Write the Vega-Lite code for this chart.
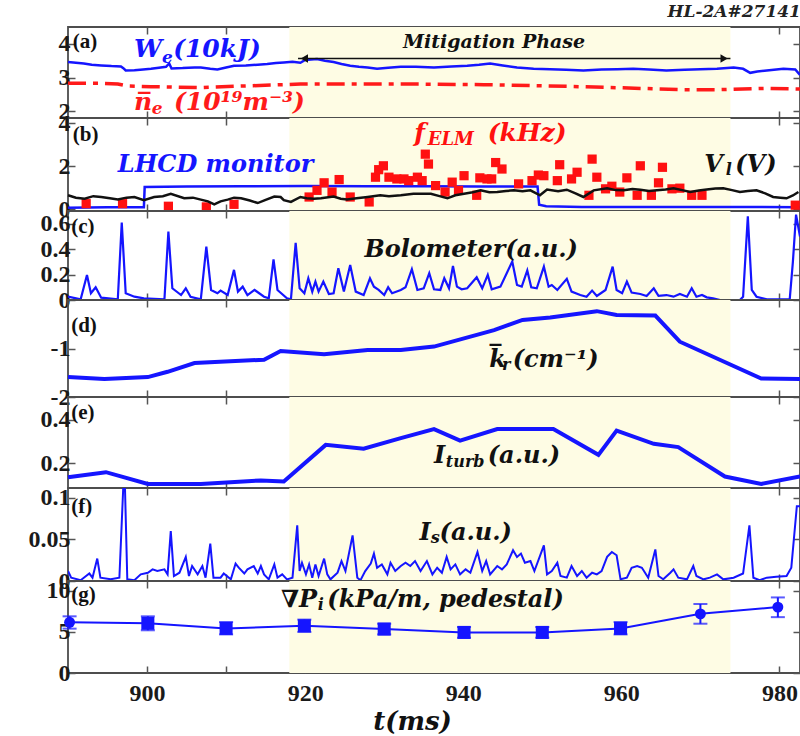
{
"$schema": "https://vega.github.io/schema/vega-lite/v6.json",
"padding": {"left": 7, "top": 3, "right": 0, "bottom": 0},
"background": "white",
"title": {"text": "HL-2A#27141", "anchor": "end", "font": "DejaVu Serif", "fontStyle": "italic", "fontWeight": "bold", "fontSize": 17, "color": "#222", "offset": 4, "dx": -8},
"spacing": 0,
"bounds": "flush",
"config": {
  "view": {"stroke": "#4d4d4d", "strokeWidth": 1.8},
  "axis": {"domain": false, "grid": false, "tickSize": -7, "tickColor": "#555", "tickWidth": 1.5, "labelFont": "Liberation Serif", "labelFontWeight": "bold", "labelFontSize": 24, "labelColor": "#1a1a1a", "labelPadding": 5, "labelFlush": false, "labelOverlap": false},
  "axisLeft": {"minExtent": 60, "maxExtent": 60},
  "axisRight": {"labels": false, "minExtent": 0, "maxExtent": 0},
  "axisTop": {"labels": false, "minExtent": 0, "maxExtent": 0},
  "axisBottom": {"labels": false},
  "text": {"font": "DejaVu Serif", "fontStyle": "italic", "fontWeight": "bold", "fontSize": 23, "baseline": "alphabetic", "align": "left"}
},
"datasets": {
  "shade": [{"start": 918.0, "end": 973.8}],
  "we": [
    {"t":890.0,"v":3.46},{"t":891.0,"v":3.44},{"t":892.0,"v":3.42},{"t":893.0,"v":3.38},{"t":894.2,"v":3.36},{"t":895.5,"v":3.34},{"t":896.7,"v":3.33},{"t":897.0,"v":3.28},{"t":897.3,"v":3.21},{"t":898.4,"v":3.22},{"t":899.5,"v":3.24},{"t":900.5,"v":3.26},{"t":901.5,"v":3.29},{"t":902.4,"v":3.32},{"t":902.8,"v":3.42},{"t":903.1,"v":3.27},{"t":904.5,"v":3.28},{"t":906.0,"v":3.30},{"t":906.8,"v":3.30},{"t":908.0,"v":3.26},{"t":908.9,"v":3.24},{"t":910.0,"v":3.30},{"t":911.0,"v":3.35},{"t":912.5,"v":3.36},{"t":914.0,"v":3.38},{"t":915.2,"v":3.40},{"t":916.3,"v":3.43},{"t":917.3,"v":3.45},{"t":918.4,"v":3.47},{"t":919.4,"v":3.44},{"t":920.0,"v":3.52},{"t":921.5,"v":3.55},{"t":922.5,"v":3.50},{"t":923.6,"v":3.46},{"t":924.6,"v":3.40},{"t":925.7,"v":3.35},{"t":926.8,"v":3.32},{"t":927.9,"v":3.30},{"t":929.1,"v":3.26},{"t":930.5,"v":3.29},{"t":932.1,"v":3.32},{"t":934.0,"v":3.32},{"t":936.3,"v":3.30},{"t":938.5,"v":3.33},{"t":940.5,"v":3.35},{"t":942.0,"v":3.38},{"t":943.4,"v":3.42},{"t":945.0,"v":3.36},{"t":946.8,"v":3.30},{"t":948.9,"v":3.26},{"t":951.0,"v":3.25},{"t":953.0,"v":3.23},{"t":955.2,"v":3.21},{"t":957.5,"v":3.24},{"t":959.5,"v":3.25},{"t":961.5,"v":3.26},{"t":963.5,"v":3.24},{"t":965.7,"v":3.21},{"t":968.0,"v":3.23},{"t":970.0,"v":3.25},{"t":972.1,"v":3.26},{"t":974.2,"v":3.30},{"t":975.4,"v":3.26},{"t":976.3,"v":3.14},{"t":977.2,"v":3.18},{"t":978.4,"v":3.21},{"t":980.5,"v":3.26},{"t":982.0,"v":3.24},{"t":982.6,"v":3.08}
  ],
  "ne": [
    {"t":890.0,"v":2.83},{"t":894.2,"v":2.83},{"t":896.3,"v":2.81},{"t":897.5,"v":2.75},{"t":900.5,"v":2.73},{"t":906.8,"v":2.70},{"t":911.0,"v":2.74},{"t":917.3,"v":2.79},{"t":919.4,"v":2.81},{"t":932.1,"v":2.81},{"t":942.6,"v":2.79},{"t":953.1,"v":2.74},{"t":959.4,"v":2.70},{"t":967.8,"v":2.64},{"t":972.1,"v":2.64},{"t":978.4,"v":2.68},{"t":982.6,"v":2.66}
  ],
  "lhcd": [
    {"t":890.0,"v":0.08},{"t":895.0,"v":0.10},{"t":899.6,"v":0.10},{"t":899.7,"v":1.05},{"t":905.0,"v":1.07},{"t":912.0,"v":1.08},{"t":920.0,"v":1.09},{"t":928.0,"v":1.08},{"t":935.0,"v":1.08},{"t":942.0,"v":1.07},{"t":949.4,"v":1.07},{"t":949.6,"v":0.22},{"t":950.5,"v":0.15},{"t":955.0,"v":0.12},{"t":965.0,"v":0.12},{"t":975.0,"v":0.12},{"t":982.6,"v":0.10}
  ],
  "vl": [
    {"t":890.0,"v":0.66},{"t":891.0,"v":0.55},{"t":892.1,"v":0.50},{"t":893.2,"v":0.62},{"t":894.2,"v":0.58},{"t":895.3,"v":0.52},{"t":896.3,"v":0.46},{"t":897.4,"v":0.55},{"t":898.4,"v":0.58},{"t":899.6,"v":0.43},{"t":900.9,"v":0.58},{"t":902.0,"v":0.62},{"t":903.0,"v":0.73},{"t":904.7,"v":0.52},{"t":905.8,"v":0.55},{"t":906.8,"v":0.46},{"t":907.7,"v":0.38},{"t":908.5,"v":0.24},{"t":909.3,"v":0.38},{"t":910.2,"v":0.46},{"t":911.0,"v":0.55},{"t":911.9,"v":0.52},{"t":913.0,"v":0.42},{"t":914.0,"v":0.30},{"t":915.0,"v":0.45},{"t":916.1,"v":0.60},{"t":916.9,"v":0.58},{"t":917.3,"v":0.43},{"t":918.2,"v":0.35},{"t":919.4,"v":0.58},{"t":920.2,"v":0.52},{"t":921.1,"v":0.50},{"t":922.0,"v":0.52},{"t":923.6,"v":0.60},{"t":924.5,"v":0.50},{"t":925.3,"v":0.46},{"t":926.5,"v":0.52},{"t":927.9,"v":0.58},{"t":929.5,"v":0.66},{"t":930.6,"v":0.62},{"t":932.1,"v":0.66},{"t":933.7,"v":0.73},{"t":935.9,"v":0.73},{"t":937.0,"v":0.62},{"t":938.0,"v":0.52},{"t":939.0,"v":0.66},{"t":940.1,"v":0.73},{"t":941.2,"v":0.80},{"t":942.2,"v":0.89},{"t":943.3,"v":0.80},{"t":944.3,"v":0.81},{"t":945.4,"v":0.86},{"t":946.4,"v":0.89},{"t":947.5,"v":0.85},{"t":948.5,"v":0.89},{"t":949.7,"v":0.66},{"t":950.6,"v":0.93},{"t":952.0,"v":0.85},{"t":953.1,"v":0.92},{"t":954.2,"v":0.75},{"t":955.2,"v":0.58},{"t":956.5,"v":0.89},{"t":958.2,"v":0.99},{"t":959.3,"v":0.90},{"t":960.3,"v":0.89},{"t":961.4,"v":0.95},{"t":962.4,"v":0.92},{"t":963.5,"v":0.86},{"t":964.5,"v":0.89},{"t":965.6,"v":0.93},{"t":966.6,"v":0.99},{"t":967.7,"v":0.90},{"t":968.7,"v":0.81},{"t":969.8,"v":0.88},{"t":970.8,"v":0.93},{"t":971.9,"v":0.97},{"t":972.9,"v":0.99},{"t":974.0,"v":0.90},{"t":975.0,"v":0.81},{"t":976.0,"v":0.86},{"t":977.1,"v":0.89},{"t":978.2,"v":0.75},{"t":979.2,"v":0.58},{"t":980.1,"v":0.55},{"t":980.9,"v":0.52},{"t":981.7,"v":0.65},{"t":982.4,"v":0.81}
  ],
  "felm": [
    {"t":892.3,"v":0.27},{"t":896.9,"v":0.27},{"t":902.7,"v":0.15},{"t":907.5,"v":0.12},{"t":911.0,"v":0.24},{"t":920.5,"v":0.58},{"t":921.5,"v":0.89},{"t":922.4,"v":1.24},{"t":923.4,"v":0.81},{"t":924.3,"v":1.39},{"t":925.7,"v":0.58},{"t":928.1,"v":0.35},{"t":928.9,"v":1.50},{"t":929.3,"v":1.85},{"t":929.9,"v":2.03},{"t":930.6,"v":1.50},{"t":931.6,"v":1.42},{"t":932.5,"v":1.42},{"t":933.1,"v":1.34},{"t":934.2,"v":1.50},{"t":934.8,"v":1.34},{"t":935.2,"v":2.57},{"t":935.6,"v":2.11},{"t":936.5,"v":1.11},{"t":937.7,"v":0.81},{"t":938.6,"v":1.27},{"t":939.4,"v":0.89},{"t":940.1,"v":1.57},{"t":941.7,"v":0.66},{"t":942.1,"v":1.47},{"t":943.0,"v":1.42},{"t":943.6,"v":1.42},{"t":944.1,"v":2.18},{"t":944.9,"v":1.88},{"t":947.0,"v":1.19},{"t":948.7,"v":1.34},{"t":949.5,"v":1.60},{"t":950.2,"v":1.57},{"t":951.9,"v":1.34},{"t":952.2,"v":2.08},{"t":953.7,"v":1.42},{"t":954.4,"v":1.73},{"t":955.9,"v":0.66},{"t":956.3,"v":2.34},{"t":956.9,"v":1.50},{"t":958.0,"v":0.96},{"t":958.8,"v":1.08},{"t":959.8,"v":0.81},{"t":960.7,"v":1.47},{"t":962.0,"v":0.66},{"t":962.4,"v":2.03},{"t":963.8,"v":0.66},{"t":964.7,"v":1.24},{"t":965.2,"v":1.96},{"t":966.4,"v":0.96},{"t":967.4,"v":0.99},{"t":968.9,"v":0.66},{"t":970.2,"v":0.66},{"t":982.0,"v":0.20}
  ],
  "bolo": [
    {"t":890.0,"v":0.026},{"t":891.6,"v":0.005},{"t":892.4,"v":0.197},{"t":892.9,"v":0.053},{"t":893.5,"v":0.100},{"t":894.2,"v":0.018},{"t":896.3,"v":0.005},{"t":896.8,"v":0.610},{"t":897.3,"v":0.053},{"t":898.4,"v":0.026},{"t":899.6,"v":0.013},{"t":902.2,"v":0.005},{"t":902.7,"v":0.539},{"t":903.2,"v":0.092},{"t":904.3,"v":0.039},{"t":904.9,"v":0.092},{"t":905.5,"v":0.026},{"t":906.8,"v":0.005},{"t":907.5,"v":0.420},{"t":908.1,"v":0.079},{"t":908.9,"v":0.053},{"t":909.3,"v":0.074},{"t":910.2,"v":0.039},{"t":911.0,"v":0.237},{"t":911.5,"v":0.066},{"t":912.1,"v":0.105},{"t":912.7,"v":0.039},{"t":913.6,"v":0.079},{"t":914.8,"v":0.026},{"t":915.4,"v":0.013},{"t":916.0,"v":0.320},{"t":916.5,"v":0.079},{"t":917.7,"v":0.013},{"t":918.2,"v":0.005},{"t":918.8,"v":0.450},{"t":919.3,"v":0.092},{"t":919.9,"v":0.053},{"t":920.4,"v":0.171},{"t":920.9,"v":0.066},{"t":921.3,"v":0.145},{"t":921.7,"v":0.066},{"t":922.3,"v":0.145},{"t":923.0,"v":0.047},{"t":923.6,"v":0.053},{"t":924.2,"v":0.250},{"t":924.9,"v":0.066},{"t":925.7,"v":0.276},{"t":926.4,"v":0.066},{"t":927.4,"v":0.039},{"t":928.2,"v":0.171},{"t":928.7,"v":0.105},{"t":929.3,"v":0.079},{"t":930.0,"v":0.039},{"t":930.5,"v":0.100},{"t":931.0,"v":0.053},{"t":932.1,"v":0.079},{"t":932.7,"v":0.100},{"t":933.5,"v":0.242},{"t":934.2,"v":0.079},{"t":935.0,"v":0.092},{"t":935.7,"v":0.211},{"t":936.3,"v":0.084},{"t":937.1,"v":0.079},{"t":937.6,"v":0.171},{"t":938.2,"v":0.092},{"t":938.7,"v":0.268},{"t":939.2,"v":0.105},{"t":939.8,"v":0.084},{"t":940.5,"v":0.092},{"t":941.7,"v":0.179},{"t":942.4,"v":0.092},{"t":943.1,"v":0.197},{"t":943.6,"v":0.084},{"t":944.7,"v":0.105},{"t":945.5,"v":0.211},{"t":946.2,"v":0.303},{"t":946.8,"v":0.118},{"t":947.4,"v":0.105},{"t":948.1,"v":0.232},{"t":948.6,"v":0.100},{"t":949.3,"v":0.092},{"t":950.2,"v":0.263},{"t":950.8,"v":0.105},{"t":951.2,"v":0.118},{"t":951.9,"v":0.079},{"t":953.1,"v":0.166},{"t":953.7,"v":0.066},{"t":954.8,"v":0.039},{"t":955.6,"v":0.026},{"t":956.3,"v":0.074},{"t":956.9,"v":0.032},{"t":958.0,"v":0.079},{"t":958.9,"v":0.263},{"t":959.4,"v":0.079},{"t":960.1,"v":0.053},{"t":960.7,"v":0.145},{"t":961.3,"v":0.058},{"t":962.4,"v":0.047},{"t":963.2,"v":0.032},{"t":964.1,"v":0.092},{"t":964.7,"v":0.032},{"t":965.7,"v":0.039},{"t":966.6,"v":0.026},{"t":967.4,"v":0.047},{"t":968.3,"v":0.026},{"t":968.9,"v":0.092},{"t":969.5,"v":0.026},{"t":970.2,"v":0.039},{"t":970.8,"v":0.021},{"t":971.6,"v":0.013},{"t":972.5,"v":0.0},{"t":975.0,"v":0.0},{"t":975.4,"v":0.026},{"t":976.0,"v":0.658},{"t":976.5,"v":0.079},{"t":977.1,"v":0.026},{"t":978.4,"v":0.005},{"t":981.3,"v":0.005},{"t":981.7,"v":0.300},{"t":982.1,"v":0.671},{"t":982.6,"v":0.500}
  ],
  "kr": [
    {"t":890.0,"v":-1.59},{"t":894.6,"v":-1.63},{"t":900.1,"v":-1.59},{"t":902.6,"v":-1.48},{"t":906.0,"v":-1.30},{"t":914.8,"v":-1.23},{"t":916.9,"v":-1.05},{"t":922.4,"v":-1.12},{"t":927.9,"v":-1.03},{"t":932.1,"v":-1.03},{"t":936.3,"v":-0.96},{"t":943.9,"v":-0.62},{"t":947.5,"v":-0.41},{"t":951.0,"v":-0.36},{"t":956.9,"v":-0.23},{"t":959.4,"v":-0.31},{"t":964.3,"v":-0.32},{"t":967.4,"v":-0.86},{"t":977.7,"v":-1.62},{"t":982.6,"v":-1.63}
  ],
  "iturb": [
    {"t":890.0,"v":0.135},{"t":894.8,"v":0.158},{"t":900.1,"v":0.104},{"t":906.8,"v":0.104},{"t":914.4,"v":0.120},{"t":917.3,"v":0.115},{"t":922.6,"v":0.284},{"t":927.4,"v":0.266},{"t":932.1,"v":0.315},{"t":936.3,"v":0.357},{"t":939.6,"v":0.304},{"t":944.3,"v":0.357},{"t":951.4,"v":0.357},{"t":957.1,"v":0.238},{"t":959.4,"v":0.350},{"t":964.1,"v":0.289},{"t":967.2,"v":0.274},{"t":973.1,"v":0.138},{"t":977.7,"v":0.104},{"t":982.6,"v":0.138}
  ],
  "is": [
    {"t":890.0,"v":0.012},{"t":890.4,"v":0.004},{"t":891.6,"v":0.001},{"t":892.7,"v":0.009},{"t":893.1,"v":0.004},{"t":893.7,"v":0.027},{"t":894.1,"v":0.004},{"t":895.4,"v":0.002},{"t":896.5,"v":0.004},{"t":897.0,"v":0.115},{"t":897.2,"v":0.115},{"t":897.5,"v":0.002},{"t":898.4,"v":0.001},{"t":899.2,"v":0.008},{"t":900.1,"v":0.010},{"t":900.7,"v":0.014},{"t":901.3,"v":0.012},{"t":902.2,"v":0.014},{"t":902.6,"v":0.008},{"t":903.0,"v":0.060},{"t":903.4,"v":0.006},{"t":904.1,"v":0.010},{"t":904.9,"v":0.029},{"t":905.3,"v":0.006},{"t":905.7,"v":0.018},{"t":906.4,"v":0.008},{"t":907.0,"v":0.018},{"t":907.4,"v":0.004},{"t":908.0,"v":0.045},{"t":908.4,"v":0.004},{"t":909.3,"v":0.004},{"t":909.7,"v":0.009},{"t":910.6,"v":0.002},{"t":911.2,"v":0.021},{"t":911.6,"v":0.016},{"t":912.3,"v":0.009},{"t":912.7,"v":0.014},{"t":913.5,"v":0.018},{"t":914.0,"v":0.009},{"t":914.4,"v":0.018},{"t":914.8,"v":0.008},{"t":915.4,"v":0.002},{"t":916.1,"v":0.020},{"t":916.5,"v":0.004},{"t":917.1,"v":0.008},{"t":917.7,"v":0.002},{"t":918.4,"v":0.004},{"t":919.0,"v":0.067},{"t":919.3,"v":0.012},{"t":919.6,"v":0.022},{"t":920.1,"v":0.008},{"t":920.5,"v":0.020},{"t":920.9,"v":0.004},{"t":921.3,"v":0.020},{"t":921.7,"v":0.006},{"t":922.4,"v":0.027},{"t":922.8,"v":0.008},{"t":923.2,"v":0.002},{"t":924.1,"v":0.010},{"t":924.6,"v":0.024},{"t":925.1,"v":0.012},{"t":926.0,"v":0.055},{"t":926.6,"v":0.004},{"t":927.0,"v":0.001},{"t":927.6,"v":0.012},{"t":928.3,"v":0.021},{"t":928.7,"v":0.033},{"t":929.1,"v":0.016},{"t":929.7,"v":0.020},{"t":930.4,"v":0.008},{"t":930.8,"v":0.022},{"t":931.4,"v":0.012},{"t":932.1,"v":0.018},{"t":932.7,"v":0.022},{"t":933.3,"v":0.018},{"t":933.9,"v":0.024},{"t":934.6,"v":0.012},{"t":935.4,"v":0.024},{"t":936.1,"v":0.008},{"t":936.7,"v":0.016},{"t":937.3,"v":0.010},{"t":937.9,"v":0.029},{"t":938.4,"v":0.014},{"t":939.0,"v":0.020},{"t":939.6,"v":0.008},{"t":940.3,"v":0.014},{"t":940.9,"v":0.010},{"t":941.8,"v":0.035},{"t":942.4,"v":0.012},{"t":942.9,"v":0.024},{"t":943.4,"v":0.008},{"t":944.3,"v":0.018},{"t":944.9,"v":0.014},{"t":945.5,"v":0.020},{"t":946.3,"v":0.037},{"t":946.8,"v":0.029},{"t":947.3,"v":0.033},{"t":947.8,"v":0.022},{"t":948.5,"v":0.024},{"t":949.0,"v":0.012},{"t":950.2,"v":0.043},{"t":950.6,"v":0.008},{"t":951.2,"v":0.012},{"t":951.9,"v":0.022},{"t":952.3,"v":0.006},{"t":953.1,"v":0.004},{"t":953.7,"v":0.018},{"t":954.4,"v":0.006},{"t":955.0,"v":0.012},{"t":955.6,"v":0.004},{"t":956.3,"v":0.010},{"t":956.9,"v":0.008},{"t":957.5,"v":0.012},{"t":958.2,"v":0.029},{"t":958.8,"v":0.035},{"t":959.4,"v":0.031},{"t":959.9,"v":0.002},{"t":960.7,"v":0.004},{"t":961.3,"v":0.016},{"t":962.0,"v":0.018},{"t":962.6,"v":0.016},{"t":963.4,"v":0.004},{"t":964.3,"v":0.038},{"t":964.7,"v":0.006},{"t":965.3,"v":0.002},{"t":966.2,"v":0.010},{"t":966.6,"v":0.014},{"t":967.2,"v":0.004},{"t":968.3,"v":0.002},{"t":969.1,"v":0.018},{"t":969.5,"v":0.006},{"t":970.4,"v":0.002},{"t":971.2,"v":0.004},{"t":972.1,"v":0.008},{"t":972.9,"v":0.002},{"t":974.2,"v":0.004},{"t":975.4,"v":0.009},{"t":976.2,"v":0.067},{"t":976.7,"v":0.004},{"t":977.5,"v":0.001},{"t":978.4,"v":0.004},{"t":979.6,"v":0.005},{"t":980.9,"v":0.006},{"t":981.5,"v":0.016},{"t":982.2,"v":0.090},{"t":982.6,"v":0.090}
  ],
  "grad": [
    {"t":890.2,"v":6.17,"lo":5.4,"hi":6.9},{"t":900.1,"v":6.05,"lo":5.2,"hi":6.9},{"t":910.0,"v":5.43,"lo":4.7,"hi":6.2},{"t":919.9,"v":5.75,"lo":5.0,"hi":6.5},{"t":930.0,"v":5.35,"lo":4.7,"hi":6.0},{"t":940.1,"v":4.94,"lo":4.3,"hi":5.6},{"t":950.0,"v":4.94,"lo":4.3,"hi":5.6},{"t":959.9,"v":5.43,"lo":4.7,"hi":6.2},{"t":970.0,"v":7.20,"lo":6.0,"hi":8.4},{"t":979.8,"v":8.02,"lo":6.8,"hi":9.2}
  ]
},
"vconcat": [
  {
    "width": 732, "height": 91,
    "layer": [
      {"data": {"name": "shade"}, "mark": {"type": "rect", "color": "#fefce4"}, "encoding": {"x": {"field": "start", "type": "quantitative", "scale": {"domain": [890, 982.6], "nice": false, "zero": false}, "axis": null}, "x2": {"field": "end"}}},
      {"data": {"name": "ne"}, "mark": {"type": "line", "color": "#ff1a1a", "strokeWidth": 3.5, "strokeDash": [18, 7, 5, 7]}, "encoding": {"x": {"field": "t", "type": "quantitative", "axis": null}, "y": {"field": "v", "type": "quantitative", "axis": null}}},
      {"data": {"name": "we"}, "mark": {"type": "line", "color": "#1515ff", "strokeWidth": 2.5}, "encoding": {
        "x": {"field": "t", "type": "quantitative", "scale": {"domain": [890, 982.6], "nice": false, "zero": false}, "axis": {"orient": "bottom", "values": [900,910,920,930,940,950,960,970,980], "title": null}},
        "y": {"field": "v", "type": "quantitative", "scale": {"domain": [1.8, 4.5], "nice": false, "zero": false}, "axis": {"orient": "left", "values": [2,3,4], "labelExpr": "'' + datum.value", "title": null}}}},
      {"data": {"name": "we"}, "mark": {"type": "point", "opacity": 0}, "encoding": {
        "x": {"field": "t", "type": "quantitative", "axis": {"orient": "top", "values": [900,910,920,930,940,950,960,970,980], "title": null}},
        "y": {"field": "v", "type": "quantitative", "axis": {"orient": "right", "values": [2,3,4], "title": null}}}},
      {"data": {"values": [{"t1": 919.1, "t2": 973.8, "v": 3.565}]}, "mark": {"type": "rule", "color": "#111", "strokeWidth": 1.5}, "encoding": {"x": {"field": "t1", "type": "quantitative", "axis": null}, "x2": {"field": "t2"}, "y": {"field": "v", "type": "quantitative", "axis": null}}},
      {"data": {"values": [{"t": 919.9, "v": 3.565}]}, "mark": {"type": "point", "shape": "triangle-left", "filled": true, "size": 70, "color": "#111", "opacity": 1}, "encoding": {"x": {"field": "t", "type": "quantitative", "axis": null}, "y": {"field": "v", "type": "quantitative", "axis": null}}},
      {"data": {"values": [{"t": 973.0, "v": 3.565}]}, "mark": {"type": "point", "shape": "triangle-right", "filled": true, "size": 70, "color": "#111", "opacity": 1}, "encoding": {"x": {"field": "t", "type": "quantitative", "axis": null}, "y": {"field": "v", "type": "quantitative", "axis": null}}},
      {"data": {"values": [{"t": 890.6, "v": 4.055, "s": "(a)"}]}, "mark": {"type": "text", "font": "Liberation Serif", "fontStyle": "normal", "fontSize": 21, "baseline": "middle", "color": "#111"}, "encoding": {"x": {"field": "t", "type": "quantitative", "axis": null}, "y": {"field": "v", "type": "quantitative", "axis": null}, "text": {"field": "s"}}},
      {"data": {"values": [{"t": 943.9, "v": 3.87, "s": "Mitigation Phase"}]}, "mark": {"type": "text", "fontSize": 19, "align": "center", "color": "#111"}, "encoding": {"x": {"field": "t", "type": "quantitative", "axis": null}, "y": {"field": "v", "type": "quantitative", "axis": null}, "text": {"field": "s"}}},
      {"data": {"values": [{"t": 898.35, "v": 3.61, "s": "W"}, {"t": 903.3, "v": 3.61, "s": "(10kJ)"}]}, "mark": {"type": "text", "fontSize": 25, "color": "#1515ff"}, "encoding": {"x": {"field": "t", "type": "quantitative", "axis": null}, "y": {"field": "v", "type": "quantitative", "axis": null}, "text": {"field": "s"}}},
      {"data": {"values": [{"t": 901.9, "v": 3.43, "s": "e"}]}, "mark": {"type": "text", "fontSize": 17, "color": "#1515ff"}, "encoding": {"x": {"field": "t", "type": "quantitative", "axis": null}, "y": {"field": "v", "type": "quantitative", "axis": null}, "text": {"field": "s"}}},
      {"data": {"values": [{"t": 898.35, "v": 2.037, "s": "n\u0305"}, {"t": 903.4, "v": 2.037, "s": "(10\u00b9\u2079m\u207b\u00b3)"}]}, "mark": {"type": "text", "fontSize": 25, "color": "#ff1a1a"}, "encoding": {"x": {"field": "t", "type": "quantitative", "axis": null}, "y": {"field": "v", "type": "quantitative", "axis": null}, "text": {"field": "s"}}},
      {"data": {"values": [{"t": 900.6, "v": 1.92, "s": "e"}]}, "mark": {"type": "text", "fontSize": 17, "color": "#ff1a1a"}, "encoding": {"x": {"field": "t", "type": "quantitative", "axis": null}, "y": {"field": "v", "type": "quantitative", "axis": null}, "text": {"field": "s"}}}
    ],
    "resolve": {"axis": {"x": "independent", "y": "independent"}}
  },
  {
    "width": 732, "height": 93,
    "layer": [
      {"data": {"name": "shade"}, "mark": {"type": "rect", "color": "#fefce4"}, "encoding": {"x": {"field": "start", "type": "quantitative", "scale": {"domain": [890, 982.6], "nice": false, "zero": false}, "axis": null}, "x2": {"field": "end"}}},
      {"data": {"name": "lhcd"}, "mark": {"type": "line", "color": "#1515ff", "strokeWidth": 2.5}, "encoding": {"x": {"field": "t", "type": "quantitative", "axis": null}, "y": {"field": "v", "type": "quantitative", "axis": null}}},
      {"data": {"name": "felm"}, "mark": {"type": "square", "filled": true, "size": 85, "color": "#ff1010", "opacity": 1}, "encoding": {"x": {"field": "t", "type": "quantitative", "axis": null}, "y": {"field": "v", "type": "quantitative", "axis": null}}},
      {"data": {"name": "vl"}, "mark": {"type": "line", "color": "#111", "strokeWidth": 2.5}, "encoding": {
        "x": {"field": "t", "type": "quantitative", "scale": {"domain": [890, 982.6], "nice": false, "zero": false}, "axis": {"orient": "bottom", "values": [900,910,920,930,940,950,960,970,980], "title": null}},
        "y": {"field": "v", "type": "quantitative", "scale": {"domain": [-0.07, 4.25], "nice": false, "zero": false}, "axis": {"orient": "left", "values": [0,2,4], "labelExpr": "'' + datum.value", "title": null}}}},
      {"data": {"name": "vl"}, "mark": {"type": "point", "opacity": 0}, "encoding": {
        "x": {"field": "t", "type": "quantitative", "axis": {"orient": "top", "values": [900,910,920,930,940,950,960,970,980], "title": null}},
        "y": {"field": "v", "type": "quantitative", "axis": {"orient": "right", "values": [0,2,4], "title": null}}}},
      {"data": {"values": [{"t": 890.6, "v": 3.46, "s": "(b)"}]}, "mark": {"type": "text", "font": "Liberation Serif", "fontStyle": "normal", "fontSize": 21, "baseline": "middle", "color": "#111"}, "encoding": {"x": {"field": "t", "type": "quantitative", "axis": null}, "y": {"field": "v", "type": "quantitative", "axis": null}, "text": {"field": "s"}}},
      {"data": {"values": [{"t": 896.3, "v": 1.756, "s": "LHCD monitor"}]}, "mark": {"type": "text", "fontSize": 24, "color": "#1515ff"}, "encoding": {"x": {"field": "t", "type": "quantitative", "axis": null}, "y": {"field": "v", "type": "quantitative", "axis": null}, "text": {"field": "s"}}},
      {"data": {"values": [{"t": 933.8, "v": 3.18, "s": "f"}, {"t": 943.1, "v": 3.18, "s": "(kHz)"}]}, "mark": {"type": "text", "fontSize": 25, "color": "#ff1010"}, "encoding": {"x": {"field": "t", "type": "quantitative", "axis": null}, "y": {"field": "v", "type": "quantitative", "axis": null}, "text": {"field": "s"}}},
      {"data": {"values": [{"t": 935.5, "v": 2.99, "s": "ELM"}]}, "mark": {"type": "text", "fontSize": 18, "color": "#ff1010"}, "encoding": {"x": {"field": "t", "type": "quantitative", "axis": null}, "y": {"field": "v", "type": "quantitative", "axis": null}, "text": {"field": "s"}}},
      {"data": {"values": [{"t": 970.5, "v": 1.756, "s": "V"}, {"t": 974.4, "v": 1.756, "s": "(V)"}]}, "mark": {"type": "text", "fontSize": 24, "color": "#111"}, "encoding": {"x": {"field": "t", "type": "quantitative", "axis": null}, "y": {"field": "v", "type": "quantitative", "axis": null}, "text": {"field": "s"}}},
      {"data": {"values": [{"t": 973.2, "v": 1.6, "s": "l"}]}, "mark": {"type": "text", "fontSize": 16, "color": "#111"}, "encoding": {"x": {"field": "t", "type": "quantitative", "axis": null}, "y": {"field": "v", "type": "quantitative", "axis": null}, "text": {"field": "s"}}}
    ],
    "resolve": {"axis": {"x": "independent", "y": "independent"}}
  },
  {
    "width": 732, "height": 89,
    "layer": [
      {"data": {"name": "shade"}, "mark": {"type": "rect", "color": "#fefce4"}, "encoding": {"x": {"field": "start", "type": "quantitative", "scale": {"domain": [890, 982.6], "nice": false, "zero": false}, "axis": null}, "x2": {"field": "end"}}},
      {"data": {"name": "bolo"}, "mark": {"type": "line", "color": "#1515ff", "strokeWidth": 2.2, "clip": true}, "encoding": {
        "x": {"field": "t", "type": "quantitative", "scale": {"domain": [890, 982.6], "nice": false, "zero": false}, "axis": {"orient": "bottom", "values": [900,910,920,930,940,950,960,970,980], "title": null}},
        "y": {"field": "v", "type": "quantitative", "scale": {"domain": [0, 0.7], "nice": false, "zero": false}, "axis": {"orient": "left", "values": [0,0.2,0.4,0.6], "labelExpr": "'' + datum.value", "title": null}}}},
      {"data": {"name": "bolo"}, "mark": {"type": "point", "opacity": 0}, "encoding": {
        "x": {"field": "t", "type": "quantitative", "axis": {"orient": "top", "values": [900,910,920,930,940,950,960,970,980], "title": null}},
        "y": {"field": "v", "type": "quantitative", "axis": {"orient": "right", "values": [0,0.2,0.4,0.6], "title": null}}}},
      {"data": {"values": [{"t": 890.4, "v": 0.574, "s": "(c)"}]}, "mark": {"type": "text", "font": "Liberation Serif", "fontStyle": "normal", "fontSize": 21, "baseline": "middle", "color": "#111"}, "encoding": {"x": {"field": "t", "type": "quantitative", "axis": null}, "y": {"field": "v", "type": "quantitative", "axis": null}, "text": {"field": "s"}}},
      {"data": {"values": [{"t": 927.5, "v": 0.336, "s": "Bolometer(a.u.)"}]}, "mark": {"type": "text", "fontSize": 24, "color": "#111"}, "encoding": {"x": {"field": "t", "type": "quantitative", "axis": null}, "y": {"field": "v", "type": "quantitative", "axis": null}, "text": {"field": "s"}}}
    ],
    "resolve": {"axis": {"x": "independent", "y": "independent"}}
  },
  {
    "width": 732, "height": 97,
    "layer": [
      {"data": {"name": "shade"}, "mark": {"type": "rect", "color": "#fefce4"}, "encoding": {"x": {"field": "start", "type": "quantitative", "scale": {"domain": [890, 982.6], "nice": false, "zero": false}, "axis": null}, "x2": {"field": "end"}}},
      {"data": {"name": "kr"}, "mark": {"type": "line", "color": "#1515ff", "strokeWidth": 4}, "encoding": {
        "x": {"field": "t", "type": "quantitative", "scale": {"domain": [890, 982.6], "nice": false, "zero": false}, "axis": {"orient": "bottom", "values": [900,910,920,930,940,950,960,970,980], "title": null}},
        "y": {"field": "v", "type": "quantitative", "scale": {"domain": [-2, 0], "nice": false, "zero": false}, "axis": {"orient": "left", "values": [-2,-1], "labelExpr": "'' + datum.value", "title": null}}}},
      {"data": {"name": "kr"}, "mark": {"type": "point", "opacity": 0}, "encoding": {
        "x": {"field": "t", "type": "quantitative", "axis": {"orient": "top", "values": [900,910,920,930,940,950,960,970,980], "title": null}},
        "y": {"field": "v", "type": "quantitative", "axis": {"orient": "right", "values": [-2,-1], "title": null}}}},
      {"data": {"values": [{"t": 890.4, "v": -0.536, "s": "(d)"}]}, "mark": {"type": "text", "font": "Liberation Serif", "fontStyle": "normal", "fontSize": 21, "baseline": "middle", "color": "#111"}, "encoding": {"x": {"field": "t", "type": "quantitative", "axis": null}, "y": {"field": "v", "type": "quantitative", "axis": null}, "text": {"field": "s"}}},
      {"data": {"values": [{"t": 943.3, "v": -1.375, "s": "k\u0305"}, {"t": 946.25, "v": -1.375, "s": "(cm\u207b\u00b9)"}]}, "mark": {"type": "text", "fontSize": 24, "color": "#111"}, "encoding": {"x": {"field": "t", "type": "quantitative", "axis": null}, "y": {"field": "v", "type": "quantitative", "axis": null}, "text": {"field": "s"}}},
      {"data": {"values": [{"t": 944.9, "v": -1.443, "s": "r"}]}, "mark": {"type": "text", "fontSize": 16, "color": "#111"}, "encoding": {"x": {"field": "t", "type": "quantitative", "axis": null}, "y": {"field": "v", "type": "quantitative", "axis": null}, "text": {"field": "s"}}}
    ],
    "resolve": {"axis": {"x": "independent", "y": "independent"}}
  },
  {
    "width": 732, "height": 91,
    "layer": [
      {"data": {"name": "shade"}, "mark": {"type": "rect", "color": "#fefce4"}, "encoding": {"x": {"field": "start", "type": "quantitative", "scale": {"domain": [890, 982.6], "nice": false, "zero": false}, "axis": null}, "x2": {"field": "end"}}},
      {"data": {"name": "iturb"}, "mark": {"type": "line", "color": "#1515ff", "strokeWidth": 4}, "encoding": {
        "x": {"field": "t", "type": "quantitative", "scale": {"domain": [890, 982.6], "nice": false, "zero": false}, "axis": {"orient": "bottom", "values": [900,910,920,930,940,950,960,970,980], "title": null}},
        "y": {"field": "v", "type": "quantitative", "scale": {"domain": [0.085, 0.505], "nice": false, "zero": false}, "axis": {"orient": "left", "values": [0.2,0.4], "labelExpr": "'' + datum.value", "title": null}}}},
      {"data": {"name": "iturb"}, "mark": {"type": "point", "opacity": 0}, "encoding": {
        "x": {"field": "t", "type": "quantitative", "axis": {"orient": "top", "values": [900,910,920,930,940,950,960,970,980], "title": null}},
        "y": {"field": "v", "type": "quantitative", "axis": {"orient": "right", "values": [0.2,0.4], "title": null}}}},
      {"data": {"values": [{"t": 890.4, "v": 0.431, "s": "(e)"}]}, "mark": {"type": "text", "font": "Liberation Serif", "fontStyle": "normal", "fontSize": 21, "baseline": "middle", "color": "#111"}, "encoding": {"x": {"field": "t", "type": "quantitative", "axis": null}, "y": {"field": "v", "type": "quantitative", "axis": null}, "text": {"field": "s"}}},
      {"data": {"values": [{"t": 936.3, "v": 0.199, "s": "I"}, {"t": 943.1, "v": 0.199, "s": "(a.u.)"}]}, "mark": {"type": "text", "fontSize": 24, "color": "#111"}, "encoding": {"x": {"field": "t", "type": "quantitative", "axis": null}, "y": {"field": "v", "type": "quantitative", "axis": null}, "text": {"field": "s"}}},
      {"data": {"values": [{"t": 937.8, "v": 0.18, "s": "turb"}]}, "mark": {"type": "text", "fontSize": 16, "color": "#111"}, "encoding": {"x": {"field": "t", "type": "quantitative", "axis": null}, "y": {"field": "v", "type": "quantitative", "axis": null}, "text": {"field": "s"}}}
    ],
    "resolve": {"axis": {"x": "independent", "y": "independent"}}
  },
  {
    "width": 732, "height": 93,
    "layer": [
      {"data": {"name": "shade"}, "mark": {"type": "rect", "color": "#fefce4"}, "encoding": {"x": {"field": "start", "type": "quantitative", "scale": {"domain": [890, 982.6], "nice": false, "zero": false}, "axis": null}, "x2": {"field": "end"}}},
      {"data": {"name": "is"}, "mark": {"type": "line", "color": "#1515ff", "strokeWidth": 2, "clip": true}, "encoding": {
        "x": {"field": "t", "type": "quantitative", "scale": {"domain": [890, 982.6], "nice": false, "zero": false}, "axis": {"orient": "bottom", "values": [900,910,920,930,940,950,960,970,980], "title": null}},
        "y": {"field": "v", "type": "quantitative", "scale": {"domain": [0, 0.112], "nice": false, "zero": false}, "axis": {"orient": "left", "values": [0,0.05,0.1], "labelExpr": "'' + datum.value", "title": null}}}},
      {"data": {"name": "is"}, "mark": {"type": "point", "opacity": 0, "clip": true}, "encoding": {
        "x": {"field": "t", "type": "quantitative", "axis": {"orient": "top", "values": [900,910,920,930,940,950,960,970,980], "title": null}},
        "y": {"field": "v", "type": "quantitative", "axis": {"orient": "right", "values": [0,0.05,0.1], "title": null}}}},
      {"data": {"values": [{"t": 890.4, "v": 0.0891, "s": "(f)"}]}, "mark": {"type": "text", "font": "Liberation Serif", "fontStyle": "normal", "fontSize": 21, "baseline": "middle", "color": "#111"}, "encoding": {"x": {"field": "t", "type": "quantitative", "axis": null}, "y": {"field": "v", "type": "quantitative", "axis": null}, "text": {"field": "s"}}},
      {"data": {"values": [{"t": 934.45, "v": 0.0494, "s": "I"}, {"t": 937.0, "v": 0.0494, "s": "(a.u.)"}]}, "mark": {"type": "text", "fontSize": 24, "color": "#111"}, "encoding": {"x": {"field": "t", "type": "quantitative", "axis": null}, "y": {"field": "v", "type": "quantitative", "axis": null}, "text": {"field": "s"}}},
      {"data": {"values": [{"t": 935.9, "v": 0.0454, "s": "s"}]}, "mark": {"type": "text", "fontSize": 16, "color": "#111"}, "encoding": {"x": {"field": "t", "type": "quantitative", "axis": null}, "y": {"field": "v", "type": "quantitative", "axis": null}, "text": {"field": "s"}}}
    ],
    "resolve": {"axis": {"x": "independent", "y": "independent"}}
  },
  {
    "width": 732, "height": 92,
    "layer": [
      {"data": {"name": "shade"}, "mark": {"type": "rect", "color": "#fefce4"}, "encoding": {"x": {"field": "start", "type": "quantitative", "scale": {"domain": [890, 982.6], "nice": false, "zero": false}, "axis": null}, "x2": {"field": "end"}}},
      {"data": {"name": "grad"}, "mark": {"type": "line", "color": "#1515ff", "strokeWidth": 2}, "encoding": {
        "x": {"field": "t", "type": "quantitative", "scale": {"domain": [890, 982.6], "nice": false, "zero": false}, "axis": {"orient": "bottom", "values": [900,910,920,930,940,950,960,970,980], "labels": true, "labelExpr": "datum.value % 20 == 0 ? datum.label : ''", "labelPadding": 15, "title": "t(ms)", "titleFont": "DejaVu Serif", "titleFontStyle": "italic", "titleFontWeight": "bold", "titleFontSize": 26, "titleColor": "#111", "titleX": 344, "titleY": 56, "titleBaseline": "alphabetic"}},
        "y": {"field": "v", "type": "quantitative", "scale": {"domain": [0, 11.2], "nice": false, "zero": false}, "axis": {"orient": "left", "values": [0,5,10], "labelExpr": "'' + datum.value", "title": null}}}},
      {"data": {"name": "grad"}, "mark": {"type": "errorbar", "color": "#1515ff", "ticks": {"size": 14, "thickness": 2}, "rule": {"strokeWidth": 2}}, "encoding": {"x": {"field": "t", "type": "quantitative", "axis": null}, "y": {"field": "lo", "type": "quantitative", "axis": null}, "y2": {"field": "hi"}}},
      {"data": {"name": "grad"}, "transform": [{"filter": "datum.t > 895 && datum.t < 965"}], "mark": {"type": "square", "filled": true, "size": 170, "color": "#1515ff", "opacity": 1}, "encoding": {"x": {"field": "t", "type": "quantitative", "axis": null}, "y": {"field": "v", "type": "quantitative", "axis": null}}},
      {"data": {"name": "grad"}, "transform": [{"filter": "datum.t < 895 || datum.t > 965"}], "mark": {"type": "circle", "size": 120, "color": "#1515ff", "opacity": 1}, "encoding": {"x": {"field": "t", "type": "quantitative", "axis": null}, "y": {"field": "v", "type": "quantitative", "axis": null}}},
      {"data": {"name": "grad"}, "mark": {"type": "point", "opacity": 0}, "encoding": {
        "x": {"field": "t", "type": "quantitative", "axis": {"orient": "top", "values": [900,910,920,930,940,950,960,970,980], "title": null}},
        "y": {"field": "v", "type": "quantitative", "axis": {"orient": "right", "values": [0,5,10], "title": null}}}},
      {"data": {"values": [{"t": 890.4, "v": 9.5, "s": "(g)"}]}, "mark": {"type": "text", "font": "Liberation Serif", "fontStyle": "normal", "fontSize": 21, "baseline": "middle", "color": "#111"}, "encoding": {"x": {"field": "t", "type": "quantitative", "axis": null}, "y": {"field": "v", "type": "quantitative", "axis": null}, "text": {"field": "s"}}},
      {"data": {"values": [{"t": 916.95, "v": 8.07, "s": "\u2207P"}, {"t": 922.8, "v": 8.07, "s": "(kPa/m, pedestal)"}]}, "mark": {"type": "text", "fontSize": 24, "color": "#111"}, "encoding": {"x": {"field": "t", "type": "quantitative", "axis": null}, "y": {"field": "v", "type": "quantitative", "axis": null}, "text": {"field": "s"}}},
      {"data": {"values": [{"t": 921.6, "v": 7.67, "s": "i"}]}, "mark": {"type": "text", "fontSize": 16, "color": "#111"}, "encoding": {"x": {"field": "t", "type": "quantitative", "axis": null}, "y": {"field": "v", "type": "quantitative", "axis": null}, "text": {"field": "s"}}}
    ],
    "resolve": {"axis": {"x": "independent", "y": "independent"}}
  }
]
}
